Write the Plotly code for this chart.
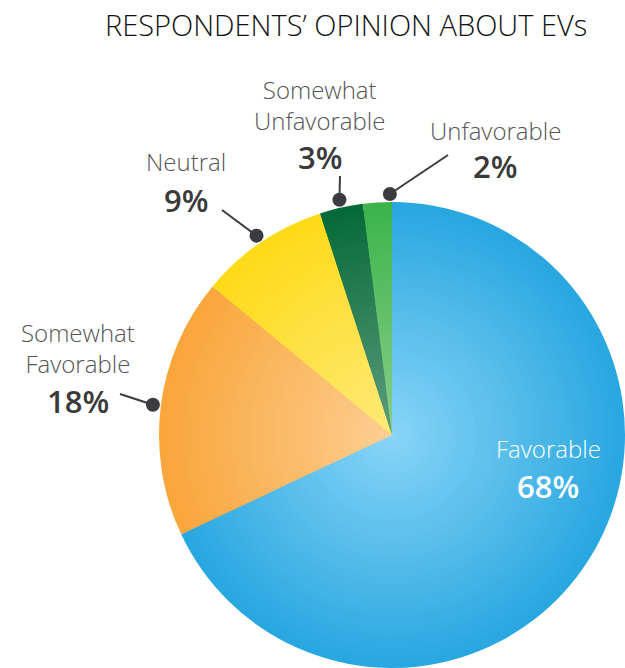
import math
import plotly.graph_objects as go

W, H = 625, 668

# ---- data ----
categories = ["Favorable", "Somewhat Favorable", "Neutral", "Somewhat Unfavorable", "Unfavorable"]
values = [68, 18, 9, 3, 2]
pct_labels = ["68%", "18%", "9%", "3%", "2%"]
name_labels = ["Favorable", "Somewhat<br>Favorable", "Neutral", "Somewhat<br>Unfavorable", "Unfavorable"]
title_text = "RESPONDENTS’ OPINION ABOUT EVs"

# ---- style ----
edge_colors = [(41, 167, 224), (249, 166, 60), (254, 218, 24), (6, 106, 56), (60, 180, 74)]
center_colors = [(135, 212, 247), (253, 206, 145), (254, 234, 120), (92, 156, 124), (138, 206, 138)]
cx, cy, R = 392, 435, 233
N_LAYERS = 36

# position within slice for leader dot (fraction), None = no leader
anchor_frac = [None, 0.5, 0.5, 0.5, 0.93]
# leader tail positions (pixels)
tails = [None, (120, 394), (222, 210), (340, 176), (448, 155)]
# text positions (pixels): name block center, pct center
name_pos = [(548, 448), (78, 348), (186, 161), (319, 105), (495, 130)]
pct_pos = [(548, 486), (78, 401), (186, 200), (320, 157), (495, 166)]
name_colors = ["white", "#555555", "#555555", "#555555", "#555555"]
pct_colors = ["white", "#3a3a3a", "#3a3a3a", "#3a3a3a", "#3a3a3a"]

FONT = "Open Sans"

fig = go.Figure()

def mix(a, b, t):
    return "rgb(%d,%d,%d)" % tuple(round(a[i] + (b[i] - a[i]) * t) for i in range(3))

for k in range(N_LAYERS):
    t = k / (N_LAYERS - 1)
    r = R * (1 - k / N_LAYERS)
    cols = [mix(e, c, t) for e, c in zip(edge_colors, center_colors)]
    fig.add_trace(go.Pie(
        labels=categories, values=values, sort=False, direction="clockwise", rotation=0,
        marker=dict(colors=cols, line=dict(width=0)),
        textinfo="none", hoverinfo="skip", showlegend=False,
        domain=dict(x=[(cx - r) / W, (cx + r) / W], y=[1 - (cy + r) / H, 1 - (cy - r) / H]),
    ))

# leader lines and dots computed from slice angles
total = sum(values)
cum = 0
for i, v in enumerate(values):
    start = cum
    cum += v
    if anchor_frac[i] is None:
        continue
    frac = (start + anchor_frac[i] * v) / total
    ang = 2 * math.pi * frac  # clockwise from top
    rd = R + 8
    dx = cx + rd * math.sin(ang)
    dy = cy - rd * math.cos(ang)
    tx, ty = tails[i]
    fig.add_trace(go.Scatter(x=[tx, dx], y=[ty, dy], mode="lines",
                             line=dict(color="#3b3b40", width=2),
                             hoverinfo="skip", showlegend=False))
    fig.add_trace(go.Scatter(x=[dx], y=[dy], mode="markers",
                             marker=dict(color="#3b3b40", size=14),
                             hoverinfo="skip", showlegend=False))

annotations = []
for i in range(len(categories)):
    nx, ny = name_pos[i]
    px, py = pct_pos[i]
    annotations.append(dict(x=nx, y=ny, xref="x", yref="y", text=name_labels[i], showarrow=False,
                            xanchor="center", yanchor="middle", align="center",
                            font=dict(family=FONT, size=24, color=name_colors[i], weight=300)))
    annotations.append(dict(x=px, y=py, xref="x", yref="y", text=pct_labels[i], showarrow=False,
                            xanchor="center", yanchor="middle",
                            font=dict(family=FONT, size=31, color=pct_colors[i], weight=600)))
annotations.append(dict(x=346, y=24, xref="x", yref="y", text=title_text, showarrow=False,
                        xanchor="center", yanchor="middle",
                        font=dict(family=FONT, size=29, color="#111111", weight=300)))

fig.update_layout(
    width=W, height=H, margin=dict(l=0, r=0, t=0, b=0),
    paper_bgcolor="white", plot_bgcolor="rgba(0,0,0,0)",
    xaxis=dict(range=[0, W], visible=False, fixedrange=True),
    yaxis=dict(range=[H, 0], visible=False, fixedrange=True),
    annotations=annotations,
)

fig.write_html("out.html")
